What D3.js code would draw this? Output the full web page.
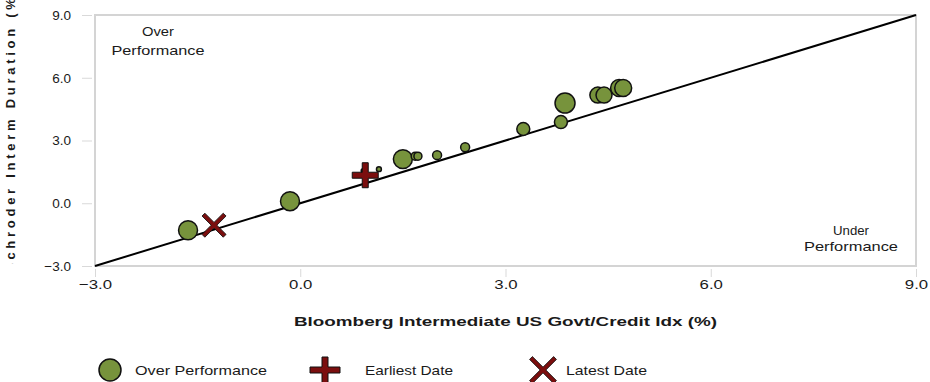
<!DOCTYPE html>
<html><head><meta charset="utf-8">
<script src="https://cdn.jsdelivr.net/npm/d3@7"></script>
<style>body{margin:0;background:#fff}svg{display:block}text{font-family:"Liberation Sans",Arial,sans-serif;fill:#1a1a1a}</style>
</head><body><svg id="c" width="930" height="382"></svg>
<script>
// ---- data ----
const xTicks = [-3, 0, 3, 6, 9];
const yTicks = [-3, 0, 3, 6, 9];
const benchReturns = [-1.64, -0.15, 1.50, 1.68, 1.72, 2.00, 2.41, 1.15, 0.92, 3.26, 3.81, 3.87, 4.35, 4.44, 4.66, 4.72];
const fundReturns  = [-1.29,  0.10, 2.11, 2.25, 2.25, 2.30, 2.68, 1.63, 1.55, 3.55, 3.88, 4.79, 5.17, 5.17, 5.51, 5.51];
const bubbleWeights = [90, 90, 90, 16, 16, 20, 20, 6, 4, 42, 42, 100, 64, 64, 72, 72];
const earliestPoint = [0.95, 1.34];
const latestPoint = [-1.26, -1.05];
const xTitle = "Bloomberg Intermediate US Govt/Credit Idx (%)";
const yTitle = "Schroder Interm Duration (%)";
const legendLabels = ["Over Performance", "Earliest Date", "Latest Date"];
const overLabel = ["Over", "Performance"];
const underLabel = ["Under", "Performance"];

// ---- layout ----
const svg = d3.select("#c");
const L = 95, R = 916, T = 15, B = 266;
const x = d3.scaleLinear().domain([-3, 9]).range([L, R]);
const y = d3.scaleLinear().domain([-3, 9]).range([B, T]);
const r = d3.scaleSqrt().domain([0, 100]).range([0, 10]);
const green = "#77933C", red = "#7B0E0E";
const HS = 1.24; // horizontal stretch of reference text

function stretch(sel) {
  sel.each(function () {
    const n = this, w = n.getComputedTextLength();
    if (w > 0) n.setAttribute("textLength", w * HS), n.setAttribute("lengthAdjust", "spacingAndGlyphs");
  });
}

// frame
svg.append("rect").attr("x", L).attr("y", T).attr("width", R - L).attr("height", B - T)
  .attr("fill", "none").attr("stroke", "#d4d4d4").attr("stroke-width", 2);

// y axis
const yAx = svg.append("g").attr("transform", `translate(${L - 3},0)`)
  .call(d3.axisLeft(y).tickValues(yTicks).tickFormat(d3.format(".1f")).tickSize(10).tickPadding(11));
yAx.select(".domain").remove();
yAx.selectAll(".tick line").attr("stroke", "#d9d9d9");
yAx.selectAll(".tick text").attr("font-size", 13.5).style("font-family", "Liberation Sans, Arial");

// x axis
const xAx = svg.append("g").attr("transform", `translate(0,${B + 3})`)
  .call(d3.axisBottom(x).tickValues(xTicks).tickFormat(d3.format(".1f")).tickSize(8).tickPadding(2));
xAx.select(".domain").remove();
xAx.selectAll(".tick line").attr("stroke", "#d9d9d9");
xAx.selectAll(".tick text").attr("font-size", 13.5).style("font-family", "Liberation Sans, Arial").call(stretch);

// titles
svg.append("text").attr("x", (L + R) / 2).attr("y", 326).attr("text-anchor", "middle")
  .attr("font-size", 13).attr("font-weight", "bold").text(xTitle)
  .attr("textLength", 423).attr("lengthAdjust", "spacingAndGlyphs");
svg.append("clipPath").attr("id", "yc").append("rect").attr("x", 0).attr("y", 0).attr("width", 30).attr("height", 264);
svg.append("g").attr("clip-path", "url(#yc)").append("text")
  .attr("transform", `translate(15,131) rotate(-90)`).attr("text-anchor", "middle")
  .attr("font-size", 13).attr("font-weight", "bold")
  .attr("textLength", 282).attr("lengthAdjust", "spacing").text(yTitle);

// annotations
svg.append("text").attr("text-anchor", "middle").attr("font-size", 13)
  .selectAll("tspan").data(overLabel).join("tspan").attr("x", 158).attr("y", (d, i) => i ? 55 : 36).text(d => d)
  .attr("textLength", (d, i) => i ? 93 : 32).attr("lengthAdjust", "spacingAndGlyphs");
svg.append("text").attr("text-anchor", "middle").attr("font-size", 13)
  .selectAll("tspan").data(underLabel).join("tspan").attr("x", 851).attr("y", (d, i) => i ? 251 : 235).text(d => d)
  .attr("textLength", (d, i) => i ? 94 : 36).attr("lengthAdjust", "spacingAndGlyphs");

// diagonal
svg.append("line").attr("x1", x(-3)).attr("y1", y(-3)).attr("x2", x(9)).attr("y2", y(9))
  .attr("stroke", "#000").attr("stroke-width", 2);

// shapes
function plusPath(w, t, h) {
  const a = w / 2, b = t / 2, c = (h || w) / 2;
  return `M${-b},${-c}H${b}V${-b}H${a}V${b}H${b}V${c}H${-b}V${b}H${-a}V${-b}H${-b}Z`;
}

// bubbles
const pts = benchReturns.map((d, i) => ({ x: d, y: fundReturns[i], w: bubbleWeights[i] }));
svg.append("g").selectAll("circle").data(pts.slice().sort((a, b) => b.w - a.w)).join("circle")
  .attr("cx", d => x(d.x)).attr("cy", d => y(d.y)).attr("r", d => r(d.w))
  .attr("fill", green).attr("stroke", "#111").attr("stroke-width", 1.5);

// earliest (plus)
svg.append("path").attr("d", plusPath(26, 6, 25))
  .attr("transform", `translate(${x(earliestPoint[0])},${y(earliestPoint[1])})`)
  .attr("fill", red).attr("stroke", "#111").attr("stroke-width", 1);
// latest (x)
svg.append("path").attr("d", plusPath(30, 4))
  .attr("transform", `translate(${x(latestPoint[0])},${y(latestPoint[1])}) rotate(45)`)
  .attr("fill", red).attr("stroke", "#111").attr("stroke-width", 0.8);

// legend
const ly = 370;
const lg = svg.append("g");
lg.append("circle").attr("cx", 110).attr("cy", ly).attr("r", 11).attr("fill", green).attr("stroke", "#111").attr("stroke-width", 1.5);
lg.append("path").attr("d", plusPath(30, 6, 26)).attr("transform", `translate(325,${ly})`)
  .attr("fill", red).attr("stroke", "#111").attr("stroke-width", 1);
lg.append("path").attr("d", plusPath(34, 4)).attr("transform", `translate(543,${ly}) rotate(45)`)
  .attr("fill", red).attr("stroke", "#111").attr("stroke-width", 0.8);
lg.selectAll("text.l").data(legendLabels).join("text").attr("class", "l")
  .attr("x", (d, i) => [135, 365, 566][i]).attr("y", ly + 5).attr("font-size", 13.5).text(d => d)
  .attr("textLength", (d, i) => [132, 88, 81][i]).attr("lengthAdjust", "spacingAndGlyphs");
</script></body></html>
